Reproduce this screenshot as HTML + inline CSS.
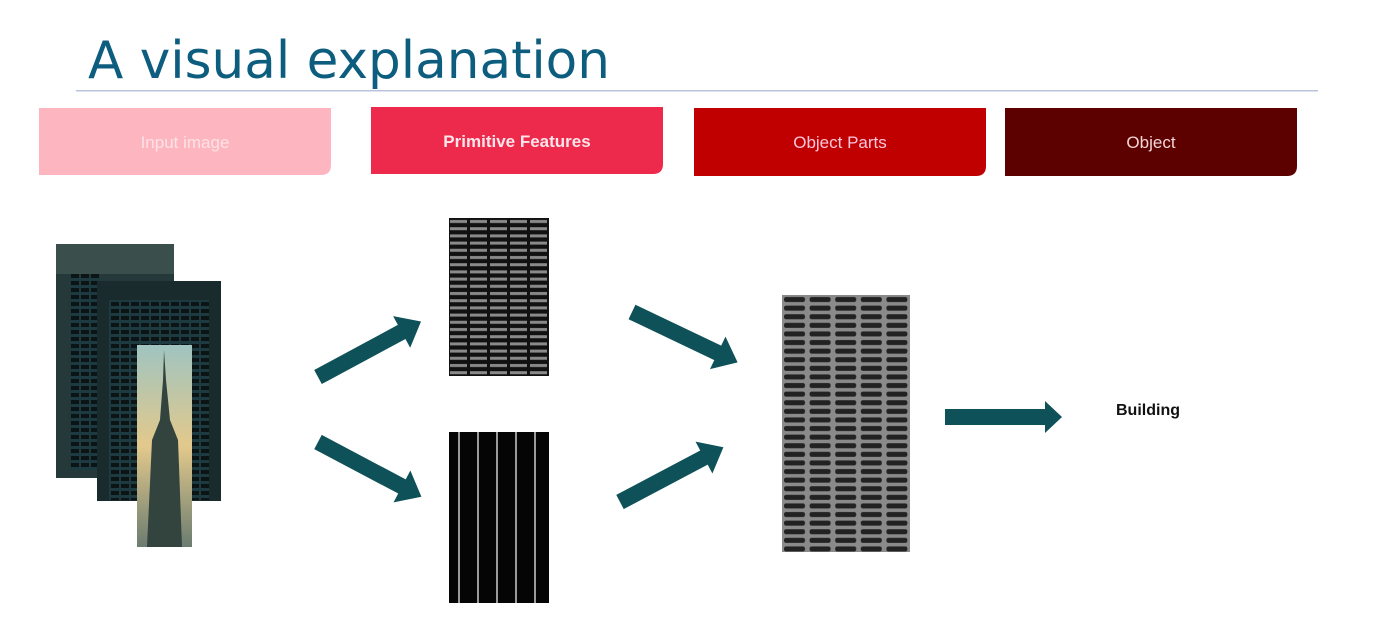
<!DOCTYPE html>
<html><head><meta charset="utf-8"><style>
html,body{margin:0;padding:0;background:#fff;width:1374px;height:643px;overflow:hidden}
</style></head><body>
<svg width="1374" height="643" viewBox="0 0 1374 643" xmlns="http://www.w3.org/2000/svg" font-family="Liberation Sans, sans-serif">
<defs>
<pattern id="p1" width="20" height="7.2" patternUnits="userSpaceOnUse" x="449" y="218">
<rect width="20" height="7.2" fill="#111"/><rect x="1" y="2" width="17" height="3" fill="#8a8a8a"/></pattern>
<pattern id="p2" width="19" height="200" patternUnits="userSpaceOnUse" x="449" y="432">
<rect width="19" height="200" fill="#050505"/><rect x="9" width="2" height="200" fill="#9a9a9a"/></pattern>
<pattern id="p3" width="25.6" height="8.6" patternUnits="userSpaceOnUse" x="782" y="295">
<rect width="25.6" height="8.6" fill="#8a8a8a"/><rect x="2" y="2" width="21" height="5" rx="2" fill="#222"/></pattern>
<pattern id="p4" width="10" height="7" patternUnits="userSpaceOnUse">
<rect width="10" height="7" fill="#1d3a40"/><rect x="1" y="1" width="8" height="4" fill="#0c1416"/></pattern>
<linearGradient id="sky" x1="0" y1="0" x2="0" y2="1"><stop offset="0" stop-color="#9fc4c0"/><stop offset=".5" stop-color="#e3c98c"/><stop offset="1" stop-color="#6b7c70"/></linearGradient>
</defs>
<text x="88" y="78" font-size="52" fill="#0d5d7f" font-family="DejaVu Sans, sans-serif" textLength="522" lengthAdjust="spacingAndGlyphs">A visual explanation</text>
<rect x="76" y="90" width="1242" height="1.5" fill="#b8c4dc"/>
<path d="M39 108H331V165Q331 175 321 175H39Z" fill="#fdb6c0"/>
<path d="M371 107H663V164Q663 174 653 174H371Z" fill="#ee2a4c"/>
<path d="M694 108H986V166Q986 176 976 176H694Z" fill="#c00000"/>
<path d="M1005 108H1297V166Q1297 176 1287 176H1005Z" fill="#5c0000"/>
<g font-size="17" text-anchor="middle">
<text x="185" y="148" fill="#fde2e6">Input image</text>
<text x="517" y="147" fill="#fde6ea" font-weight="bold">Primitive Features</text>
<text x="840" y="148" fill="#ffc6dc">Object Parts</text>
<text x="1151" y="148" fill="#f4d6d6">Object</text>
</g>
<rect x="56" y="244" width="118" height="234" fill="#25393a"/>
<rect x="70" y="270" width="30" height="200" fill="url(#p4)"/>
<rect x="56" y="244" width="118" height="30" fill="#3a4f4c"/>
<rect x="97" y="281" width="124" height="220" fill="#1a2b2e"/>
<rect x="109" y="300" width="100" height="200" fill="url(#p4)"/>
<rect x="137" y="345" width="55" height="202" fill="url(#sky)"/>
<path d="M164 350L166 380L170 420L178 440L182 547H147L152 440L160 420L163 380Z" fill="#33433e"/>
<rect x="449" y="218" width="100" height="158" fill="url(#p1)"/>
<rect x="449" y="432" width="100" height="171" fill="url(#p2)"/>
<rect x="782" y="295" width="128" height="257" fill="url(#p3)"/>
<g fill="#0e5158">
<g transform="translate(318,377) rotate(-28.3)"><path d="M0 -8H95V-18L117 0L95 18V8H0Z"/></g>
<g transform="translate(318,442) rotate(27.9)"><path d="M0 -8H95V-18L117 0L95 18V8H0Z"/></g>
<g transform="translate(632,312) rotate(25.5)"><path d="M0 -8H95V-18L117 0L95 18V8H0Z"/></g>
<g transform="translate(620,502) rotate(-27.9)"><path d="M0 -8H95V-18L117 0L95 18V8H0Z"/></g>
<path d="M945 409H1045V401L1062 417L1045 433V425H945Z"/>
</g>
<text x="1116" y="415" font-size="16" font-weight="bold" fill="#111">Building</text>
</svg>
</body></html>
